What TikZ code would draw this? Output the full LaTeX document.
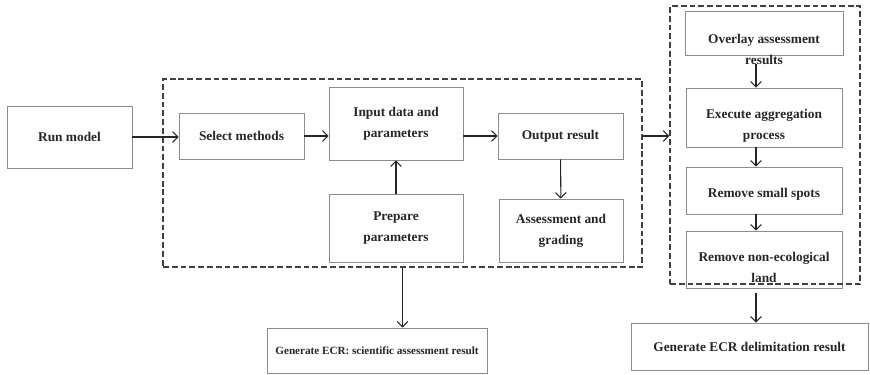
\documentclass[tikz,border=0pt]{standalone}
\usepackage{fontspec}
\setmainfont{Liberation Serif}
\usetikzlibrary{arrows.meta}
\tikzset{
  box/.style={draw=black!45,line width=0.7pt,align=center,inner sep=0pt,
    font=\bfseries\fontsize{11.4}{18}\selectfont,text=black!85},
  txt/.style={align=center,inner sep=0pt,
    font=\bfseries\fontsize{11.4}{18}\selectfont,text=black!85},
  grp/.style={draw=black!75,line width=1.1pt,dash pattern=on 5pt off 2.5pt,inner sep=0pt},
  arr/.style={draw=black!85,line width=0.9pt,-{Straight Barb[length=1.6mm,width=3.2mm]}}
}
\begin{document}
\begin{tikzpicture}[x=0.03cm,y=-0.03cm]
\useasboundingbox (0,0) rectangle (870,375);

% left part: model run
\node[box,minimum width=3.75cm,minimum height=1.86cm] (run) at (69.5,137) {Run model};
\node[box,minimum width=3.75cm,minimum height=1.38cm] (sel) at (241.5,136) {Select methods};
\node[box,minimum width=4.02cm,minimum height=2.19cm] (inp) at (396,123.5) {Input data and\\parameters};
\node[box,minimum width=4.02cm,minimum height=2.04cm] (prep) at (396,228) {Prepare\\parameters};
\node[box,minimum width=3.75cm,minimum height=1.38cm] (out) at (560.5,136) {Output result};
\node[box,minimum width=3.72cm,minimum height=1.89cm] (grade) at (561,230.5) {Assessment and\\grading};
\node[box,minimum width=6.6cm,minimum height=1.35cm,font=\bfseries\fontsize{9.5}{12}\selectfont] (sci) at (377,350.5) {Generate ECR: scientific assessment result};

% right part: delimitation
\node[box,minimum width=4.74cm,minimum height=1.32cm] (over) at (764,33) {};
\node[txt] (overT) at (764,49) {Overlay assessment\\results};
\node[box,minimum width=4.68cm,minimum height=1.77cm] (exec) at (764,117.5) {};
\node[txt] at (764,126) {Execute aggregation\\process};
\node[box,minimum width=4.68cm,minimum height=1.41cm] (spot) at (764,190.5) {};
\node[txt] at (764,194) {Remove small spots};
\node[box,minimum width=4.68cm,minimum height=1.71cm] (land) at (764,259.5) {};
\node[txt] at (764,267.5) {Remove non-ecological\\land};
\node[box,minimum width=7.11cm,minimum height=1.41cm] (ecr) at (749.5,346.5) {Generate ECR delimitation result};

% dashed groups
\node[grp,minimum width=14.37cm,minimum height=5.64cm] (eval) at (402.5,173) {};
\node[grp,minimum width=5.7cm,minimum height=8.34cm] (delim) at (765,145) {};

% arrows
\draw[arr] (run.east) -- (run.east -| sel.west);
\draw[arr] (sel.east) -- (sel.east -| inp.west);
\draw[arr] (out.west -| inp.east) -- (out.west);
\draw[arr] (prep) -- (inp);
\draw[arr] (out) -- (grade);
\draw[arr] (eval.east |- out) -- (delim.west |- out);
\draw[arr] ([xshift=-0.24cm]overT.south) -- ([xshift=-0.24cm]exec.north);
\draw[arr] ([xshift=-0.24cm]exec.south) -- ([xshift=-0.24cm]spot.north);
\draw[arr] ([xshift=-0.24cm]spot.south) -- ([xshift=-0.24cm]land.north);
\draw[arr,shorten <=0.15cm] ([xshift=-0.24cm]land.south) -- ([xshift=-0.24cm]land.south |- ecr.north);
\draw[arr] (eval.south) -- (eval.south |- sci.north);

\end{tikzpicture}
\end{document}
